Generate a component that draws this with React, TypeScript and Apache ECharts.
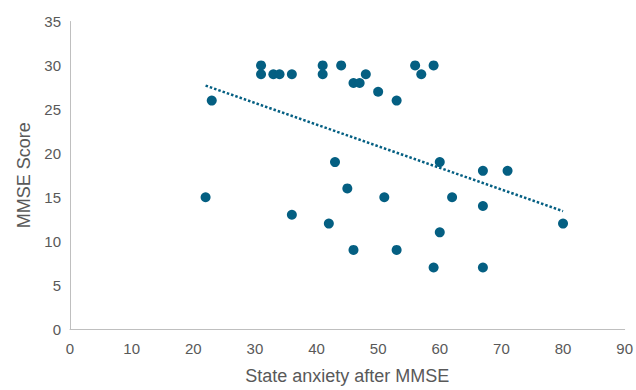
import React, { useEffect, useRef } from "react";
import * as echarts from "echarts";

const anxiety: number[] = [31, 41, 44, 56, 59, 31, 33, 34, 36, 41, 48, 57, 46, 47, 50, 23, 53, 43, 60, 67, 71, 45, 22, 51, 62, 67, 36, 42, 80, 60, 46, 53, 59, 67];
const mmse: number[] = [30, 30, 30, 30, 30, 29, 29, 29, 29, 29, 29, 29, 28, 28, 27, 26, 26, 19, 19, 18, 18, 16, 15, 15, 15, 14, 13, 12, 12, 11, 9, 9, 7, 7];
const xTicks = { min: 0, max: 90, interval: 10 };
const yTicks = { min: 0, max: 35, interval: 5 };

const COLOR = "#045f82";

function fitLine(xs: number[], ys: number[]) {
  const n = xs.length;
  const mx = xs.reduce((a, b) => a + b, 0) / n;
  const my = ys.reduce((a, b) => a + b, 0) / n;
  let sxy = 0;
  let sxx = 0;
  for (let i = 0; i < n; i++) {
    sxy += (xs[i] - mx) * (ys[i] - my);
    sxx += (xs[i] - mx) * (xs[i] - mx);
  }
  const slope = sxy / sxx;
  const intercept = my - slope * mx;
  const x0 = Math.min(...xs);
  const x1 = Math.max(...xs);
  return [
    [x0, intercept + slope * x0],
    [x1, intercept + slope * x1],
  ];
}

export default function App() {
  const ref = useRef<HTMLDivElement>(null);
  useEffect(() => {
    if (!ref.current) return;
    const chart = echarts.init(ref.current, undefined, { renderer: "svg" });
    const points = anxiety.map((x, i) => [x, mmse[i]]);
    const trend = fitLine(anxiety, mmse);
    const labelStyle = { color: "#595959", fontSize: 15, fontFamily: "Liberation Sans, Arial, sans-serif" };
    chart.setOption({
      animation: false,
      grid: { left: 70, right: 9, top: 21.5, bottom: 58 },
      xAxis: {
        type: "value",
        min: xTicks.min,
        max: xTicks.max,
        interval: xTicks.interval,
        name: "State anxiety after MMSE",
        nameLocation: "middle",
        nameGap: 38,
        nameTextStyle: { ...labelStyle, fontSize: 18 },
        axisLine: { show: true, lineStyle: { color: "#bfbfbf", width: 1 } },
        axisTick: { show: false },
        splitLine: { show: false },
        axisLabel: { ...labelStyle, margin: 12 },
      },
      yAxis: {
        type: "value",
        min: yTicks.min,
        max: yTicks.max,
        interval: yTicks.interval,
        name: "MMSE Score",
        nameLocation: "middle",
        nameGap: 36,
        nameTextStyle: { ...labelStyle, fontSize: 18 },
        axisLine: { show: true, lineStyle: { color: "#bfbfbf", width: 1 } },
        axisTick: { show: false },
        splitLine: { show: false },
        axisLabel: { ...labelStyle, margin: 9 },
      },
      series: [
        {
          type: "line",
          data: trend,
          symbol: "none",
          silent: true,
          lineStyle: { color: COLOR, width: 2.5, type: [2.5, 2], cap: "butt" },
          z: 1,
        },
        {
          type: "scatter",
          data: points,
          symbol: "circle",
          symbolSize: 10,
          itemStyle: { color: COLOR, opacity: 1 },
          z: 2,
        },
      ],
    });
    return () => chart.dispose();
  }, []);
  return (
    <div
      ref={ref}
      style={{ position: "fixed", left: 0, top: 0, width: 636, height: 390, background: "#ffffff" }}
    />
  );
}
